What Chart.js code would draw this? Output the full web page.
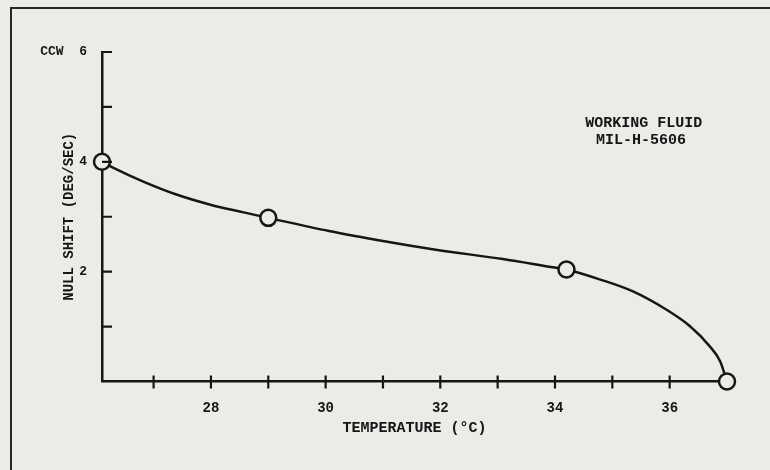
<!DOCTYPE html>
<html>
<head>
<meta charset="utf-8">
<script src="https://cdn.jsdelivr.net/npm/chart.js@4.4.1/dist/chart.umd.min.js"></script>
<style>
html, body { margin: 0; padding: 0; background: #ecebe8; }
#wrap { position: relative; width: 770px; height: 470px; overflow: hidden; }
#frame { position: absolute; left: 10px; top: 7px; right: -5px; bottom: -5px;
         border-top: 2px solid #262626; border-left: 2px solid #262626; }
canvas { position: absolute; left: 0; top: 0; }
</style>
</head>
<body>
<div id="wrap">
  <div id="frame"></div>
  <canvas id="c" width="770" height="470"></canvas>
</div>
<script>
// measured points (the open circles)
const pointTemp  = [26.1, 29.0, 34.2, 37.0];
const pointShift = [4.0, 2.98, 2.04, 0.0];

// faired curve
const curveTemp  = [26.1, 26.3, 26.82, 27.41, 27.99, 28.57, 29.0, 30.06, 31.05, 31.92,
                    33.09, 33.96, 34.2, 34.78, 35.36, 35.94, 36.35, 36.7, 36.88, 37.0];
const curveShift = [4.0, 3.89, 3.64, 3.40, 3.22, 3.08, 2.98, 2.74, 2.55, 2.40,
                    2.23, 2.08, 2.04, 1.86, 1.64, 1.31, 1.01, 0.64, 0.37, 0.0];

// axes
const xTicks = [27, 28, 29, 30, 31, 32, 33, 34, 35, 36];
const xLabelled = [28, 30, 32, 34, 36];
const yTicks = [0, 1, 2, 3, 4, 5, 6];
const yLabelValues = [2, 4, 6];
const yLabelText = ['2', '4', 'CCW  6'];

const noteLines = ['WORKING FLUID', 'MIL-H-5606'];

const ink = '#161616';
const paper = '#ecebe8';
const mono = '"Liberation Mono", "DejaVu Sans Mono", monospace';

// short tick marks: inward on the y axis, crossing the x axis
const tickMarks = {
  id: 'tickMarks',
  afterDraw(chart) {
    const { ctx, chartArea: a, scales: { x, y } } = chart;
    ctx.save();
    ctx.strokeStyle = ink;
    ctx.lineWidth = 2.2;
    ctx.beginPath();
    yTicks.slice(1).forEach(v => {
      const py = y.getPixelForValue(v);
      ctx.moveTo(a.left, py);
      ctx.lineTo(a.left + 10, py);
    });
    xTicks.forEach(v => {
      const px = x.getPixelForValue(v);
      ctx.moveTo(px, a.bottom - 6);
      ctx.lineTo(px, a.bottom + 7);
    });
    ctx.stroke();
    ctx.restore();
  }
};

const note = {
  id: 'note',
  afterDraw(chart) {
    const { ctx, scales: { x, y } } = chart;
    ctx.save();
    ctx.fillStyle = ink;
    ctx.font = 'bold 15px ' + mono;
    ctx.textAlign = 'center';
    ctx.textBaseline = 'middle';
    ctx.fillText(noteLines[0], x.getPixelForValue(35.55), y.getPixelForValue(4.70));
    ctx.fillText(noteLines[1], x.getPixelForValue(35.5), y.getPixelForValue(4.39));
    ctx.restore();
  }
};

new Chart(document.getElementById('c'), {
  type: 'scatter',
  data: {
    datasets: [
      {
        data: pointTemp.map((t, i) => ({ x: t, y: pointShift[i] })),
        showLine: false,
        pointRadius: 8,
        pointHoverRadius: 8,
        pointBorderWidth: 2.5,
        pointBorderColor: ink,
        pointBackgroundColor: paper,
        clip: false
      },
      {
        data: curveTemp.map((t, i) => ({ x: t, y: curveShift[i] })),
        showLine: true,
        borderColor: ink,
        borderWidth: 2.5,
        pointRadius: 0,
        cubicInterpolationMode: 'monotone',
        fill: false,
        clip: false
      }
    ]
  },
  options: {
    responsive: false,
    animation: false,
    events: [],
    layout: { padding: { left: 0, right: 43, top: 52, bottom: 0 } },
    plugins: { legend: { display: false }, tooltip: { enabled: false } },
    scales: {
      x: {
        type: 'linear',
        min: 26.1,
        max: 37,
        afterBuildTicks: s => { s.ticks = xTicks.map(v => ({ value: v })); },
        afterFit: s => { s.height = 88.5; },
        grid: { display: false, drawTicks: false },
        border: { display: true, color: ink, width: 2.5 },
        ticks: {
          autoSkip: false,
          maxRotation: 0,
          padding: 19,
          color: ink,
          font: { family: mono, size: 14, weight: 'bold' },
          callback: v => xLabelled.includes(v) ? String(v) : ''
        },
        title: {
          display: true,
          text: 'TEMPERATURE (°C)',
          color: ink,
          font: { family: mono, size: 15, weight: 'bold' },
          padding: { top: 0, bottom: 33 }
        }
      },
      y: {
        type: 'linear',
        min: 0,
        max: 6,
        afterBuildTicks: s => { s.ticks = yTicks.map(v => ({ value: v })); },
        afterFit: s => { s.width = 102; },
        grid: { display: false, drawTicks: false },
        border: { display: true, color: ink, width: 2.5 },
        ticks: {
          autoSkip: false,
          padding: 15,
          color: ink,
          font: { family: mono, size: 13, weight: 'bold' },
          callback: v => {
            const i = yLabelValues.indexOf(v);
            return i < 0 ? '' : yLabelText[i];
          }
        },
        title: {
          display: true,
          text: 'NULL SHIFT (DEG/SEC)',
          color: ink,
          font: { family: mono, size: 14, weight: 'bold' },
          padding: { top: 61, bottom: 0 }
        }
      }
    }
  },
  plugins: [tickMarks, note]
});
</script>
</body>
</html>
